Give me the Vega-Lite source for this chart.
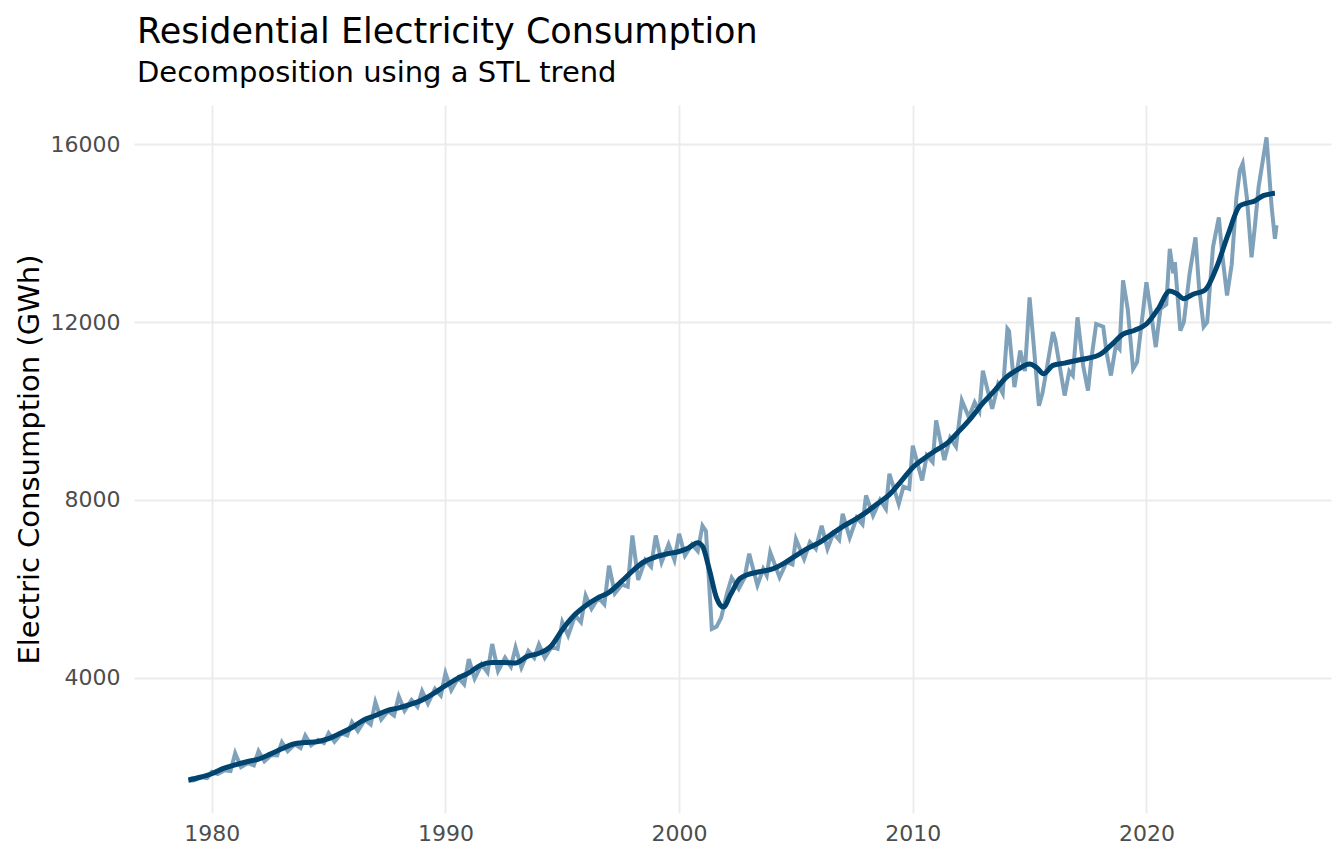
{
  "$schema": "https://vega.github.io/schema/vega-lite/v6.json",
  "width": 1197,
  "height": 708,
  "autosize": {"type": "none"},
  "padding": {"left": 134, "top": 105, "right": 13, "bottom": 51},
  "background": "white",
  "config": {
    "font": "DejaVu Sans",
    "view": {"stroke": null},
    "axis": {"grid": true, "gridColor": "#ebebeb", "gridWidth": 1.8, "domain": false, "ticks": false, "labelColor": "#4d4d4d", "labelFont": "DejaVu Sans", "labelFontSize": 22, "titleFont": "DejaVu Sans", "titleFontWeight": "normal", "titleColor": "black", "titleFontSize": 29}
  },
  "title": {"text": "Residential Electricity Consumption", "subtitle": "Decomposition using a STL trend", "anchor": "start", "frame": "group", "dx": 3, "font": "DejaVu Sans", "fontSize": 35, "fontWeight": "normal", "color": "black", "subtitleFont": "DejaVu Sans", "subtitleFontSize": 29, "subtitleColor": "black", "offset": 17, "subtitlePadding": 9},
  "datasets": {
    "raw": [
      {"t": 1979.0, "v": 1680}, {"t": 1979.25, "v": 1690}, {"t": 1979.55, "v": 1760}, {"t": 1979.8, "v": 1740},
      {"t": 1980.0, "v": 1880}, {"t": 1980.25, "v": 1830}, {"t": 1980.55, "v": 1920}, {"t": 1980.8, "v": 1900},
      {"t": 1981.0, "v": 2300}, {"t": 1981.25, "v": 1990}, {"t": 1981.55, "v": 2080}, {"t": 1981.8, "v": 2030},
      {"t": 1982.0, "v": 2350}, {"t": 1982.25, "v": 2120}, {"t": 1982.55, "v": 2260}, {"t": 1982.8, "v": 2250},
      {"t": 1983.0, "v": 2550}, {"t": 1983.25, "v": 2350}, {"t": 1983.55, "v": 2500}, {"t": 1983.8, "v": 2420},
      {"t": 1984.0, "v": 2700}, {"t": 1984.25, "v": 2480}, {"t": 1984.55, "v": 2600}, {"t": 1984.8, "v": 2530},
      {"t": 1985.0, "v": 2750}, {"t": 1985.25, "v": 2560}, {"t": 1985.55, "v": 2750}, {"t": 1985.8, "v": 2700},
      {"t": 1986.0, "v": 3000}, {"t": 1986.25, "v": 2800}, {"t": 1986.55, "v": 3050}, {"t": 1986.8, "v": 2950},
      {"t": 1987.0, "v": 3450}, {"t": 1987.25, "v": 3060}, {"t": 1987.55, "v": 3250}, {"t": 1987.8, "v": 3150},
      {"t": 1988.0, "v": 3580}, {"t": 1988.25, "v": 3260}, {"t": 1988.55, "v": 3500}, {"t": 1988.8, "v": 3350},
      {"t": 1989.0, "v": 3700}, {"t": 1989.25, "v": 3420}, {"t": 1989.55, "v": 3750}, {"t": 1989.8, "v": 3600},
      {"t": 1990.0, "v": 4100}, {"t": 1990.25, "v": 3720}, {"t": 1990.55, "v": 4000}, {"t": 1990.8, "v": 3850},
      {"t": 1991.0, "v": 4420}, {"t": 1991.25, "v": 3980}, {"t": 1991.55, "v": 4300}, {"t": 1991.8, "v": 4120},
      {"t": 1992.0, "v": 4760}, {"t": 1992.25, "v": 4150}, {"t": 1992.55, "v": 4450}, {"t": 1992.8, "v": 4250},
      {"t": 1993.0, "v": 4680}, {"t": 1993.25, "v": 4230}, {"t": 1993.55, "v": 4600}, {"t": 1993.8, "v": 4450},
      {"t": 1994.0, "v": 4750}, {"t": 1994.25, "v": 4450}, {"t": 1994.55, "v": 4700}, {"t": 1994.8, "v": 4650},
      {"t": 1995.0, "v": 5250}, {"t": 1995.25, "v": 4950}, {"t": 1995.55, "v": 5400}, {"t": 1995.8, "v": 5250},
      {"t": 1996.0, "v": 5850}, {"t": 1996.25, "v": 5550}, {"t": 1996.55, "v": 5800}, {"t": 1996.8, "v": 5650},
      {"t": 1997.0, "v": 6520}, {"t": 1997.25, "v": 5900}, {"t": 1997.55, "v": 6100}, {"t": 1997.8, "v": 6050},
      {"t": 1998.0, "v": 7200}, {"t": 1998.25, "v": 6200}, {"t": 1998.55, "v": 6650}, {"t": 1998.8, "v": 6500},
      {"t": 1999.0, "v": 7200}, {"t": 1999.25, "v": 6600}, {"t": 1999.55, "v": 7000}, {"t": 1999.8, "v": 6650},
      {"t": 2000.0, "v": 7240}, {"t": 2000.25, "v": 6750}, {"t": 2000.55, "v": 7000}, {"t": 2000.8, "v": 6850},
      {"t": 2001.0, "v": 7420}, {"t": 2001.15, "v": 7300}, {"t": 2001.4, "v": 5100}, {"t": 2001.6, "v": 5150}, {"t": 2001.8, "v": 5350},
      {"t": 2002.05, "v": 5900}, {"t": 2002.25, "v": 6250}, {"t": 2002.55, "v": 6000}, {"t": 2002.8, "v": 6250},
      {"t": 2003.0, "v": 6790}, {"t": 2003.35, "v": 6080}, {"t": 2003.6, "v": 6450}, {"t": 2003.75, "v": 6300},
      {"t": 2003.9, "v": 6820}, {"t": 2004.3, "v": 6260}, {"t": 2004.6, "v": 6600}, {"t": 2004.85, "v": 6550},
      {"t": 2005.0, "v": 7120}, {"t": 2005.35, "v": 6670}, {"t": 2005.6, "v": 7050}, {"t": 2005.85, "v": 6900},
      {"t": 2006.1, "v": 7420}, {"t": 2006.35, "v": 6900}, {"t": 2006.6, "v": 7250}, {"t": 2006.85, "v": 7100},
      {"t": 2007.0, "v": 7690}, {"t": 2007.3, "v": 7150}, {"t": 2007.6, "v": 7600}, {"t": 2007.85, "v": 7450},
      {"t": 2008.0, "v": 8100}, {"t": 2008.3, "v": 7650}, {"t": 2008.6, "v": 8000}, {"t": 2008.85, "v": 7800},
      {"t": 2009.0, "v": 8590}, {"t": 2009.4, "v": 7910}, {"t": 2009.6, "v": 8300}, {"t": 2009.85, "v": 8250},
      {"t": 2010.0, "v": 9220}, {"t": 2010.4, "v": 8440}, {"t": 2010.6, "v": 9000}, {"t": 2010.85, "v": 8850},
      {"t": 2011.0, "v": 9790}, {"t": 2011.35, "v": 8900}, {"t": 2011.6, "v": 9400}, {"t": 2011.85, "v": 9200},
      {"t": 2012.1, "v": 10240}, {"t": 2012.4, "v": 9860}, {"t": 2012.65, "v": 10200}, {"t": 2012.85, "v": 10000},
      {"t": 2013.0, "v": 10910}, {"t": 2013.4, "v": 10050}, {"t": 2013.65, "v": 10600}, {"t": 2013.85, "v": 10400},
      {"t": 2014.05, "v": 11850}, {"t": 2014.12, "v": 11800}, {"t": 2014.35, "v": 10540}, {"t": 2014.6, "v": 11360}, {"t": 2014.8, "v": 10900},
      {"t": 2015.0, "v": 12560}, {"t": 2015.4, "v": 10120}, {"t": 2015.55, "v": 10400}, {"t": 2015.75, "v": 11000},
      {"t": 2016.0, "v": 11780}, {"t": 2016.1, "v": 11600}, {"t": 2016.5, "v": 10350}, {"t": 2016.7, "v": 10900}, {"t": 2016.85, "v": 10800},
      {"t": 2017.05, "v": 12110}, {"t": 2017.3, "v": 11000}, {"t": 2017.5, "v": 10460}, {"t": 2017.65, "v": 11200}, {"t": 2017.85, "v": 11960},
      {"t": 2018.15, "v": 11900}, {"t": 2018.3, "v": 11300}, {"t": 2018.48, "v": 10800}, {"t": 2018.7, "v": 11500}, {"t": 2018.85, "v": 11400},
      {"t": 2019.0, "v": 12940}, {"t": 2019.2, "v": 12300}, {"t": 2019.43, "v": 10950}, {"t": 2019.6, "v": 11100}, {"t": 2019.8, "v": 12000},
      {"t": 2020.0, "v": 12900}, {"t": 2020.2, "v": 12200}, {"t": 2020.4, "v": 11440}, {"t": 2020.6, "v": 12300}, {"t": 2020.85, "v": 12400},
      {"t": 2021.0, "v": 13650}, {"t": 2021.15, "v": 13100}, {"t": 2021.22, "v": 13350}, {"t": 2021.45, "v": 11810}, {"t": 2021.6, "v": 12000}, {"t": 2021.85, "v": 13100},
      {"t": 2022.1, "v": 13910}, {"t": 2022.25, "v": 12800}, {"t": 2022.45, "v": 11900}, {"t": 2022.6, "v": 12000}, {"t": 2022.85, "v": 13690},
      {"t": 2023.1, "v": 14360}, {"t": 2023.25, "v": 13500}, {"t": 2023.45, "v": 12600}, {"t": 2023.65, "v": 13300}, {"t": 2023.85, "v": 14800},
      {"t": 2024.0, "v": 15420}, {"t": 2024.12, "v": 15570}, {"t": 2024.3, "v": 14800}, {"t": 2024.5, "v": 13460}, {"t": 2024.65, "v": 14200}, {"t": 2024.8, "v": 15040},
      {"t": 2025.14, "v": 16160}, {"t": 2025.36, "v": 14590}, {"t": 2025.5, "v": 13880}, {"t": 2025.57, "v": 14180}
    ],
    "trend": [
      {"t": 1979.0, "v": 1700}, {"t": 1979.5, "v": 1760}, {"t": 1980.0, "v": 1840}, {"t": 1980.5, "v": 1960},
      {"t": 1981.0, "v": 2040}, {"t": 1981.5, "v": 2110}, {"t": 1982.0, "v": 2170}, {"t": 1982.5, "v": 2280},
      {"t": 1983.0, "v": 2400}, {"t": 1983.5, "v": 2510}, {"t": 1984.0, "v": 2540}, {"t": 1984.5, "v": 2560},
      {"t": 1985.0, "v": 2630}, {"t": 1985.5, "v": 2750}, {"t": 1986.0, "v": 2880}, {"t": 1986.5, "v": 3050},
      {"t": 1987.0, "v": 3150}, {"t": 1987.5, "v": 3260}, {"t": 1988.0, "v": 3320}, {"t": 1988.5, "v": 3400},
      {"t": 1989.0, "v": 3500}, {"t": 1989.5, "v": 3650}, {"t": 1990.0, "v": 3820}, {"t": 1990.5, "v": 3980},
      {"t": 1991.0, "v": 4110}, {"t": 1991.5, "v": 4280}, {"t": 1992.0, "v": 4340}, {"t": 1992.5, "v": 4340},
      {"t": 1993.0, "v": 4330}, {"t": 1993.5, "v": 4480}, {"t": 1994.0, "v": 4550}, {"t": 1994.5, "v": 4700},
      {"t": 1995.0, "v": 5080}, {"t": 1995.5, "v": 5400}, {"t": 1996.0, "v": 5620}, {"t": 1996.5, "v": 5790},
      {"t": 1997.0, "v": 5920}, {"t": 1997.5, "v": 6150}, {"t": 1998.0, "v": 6400}, {"t": 1998.5, "v": 6610},
      {"t": 1999.0, "v": 6720}, {"t": 1999.5, "v": 6790}, {"t": 2000.0, "v": 6840}, {"t": 2000.4, "v": 6920},
      {"t": 2000.8, "v": 7040}, {"t": 2001.0, "v": 6960}, {"t": 2001.3, "v": 6420}, {"t": 2001.6, "v": 5800},
      {"t": 2001.9, "v": 5590}, {"t": 2002.2, "v": 5870}, {"t": 2002.6, "v": 6230}, {"t": 2003.0, "v": 6330},
      {"t": 2003.5, "v": 6390}, {"t": 2004.0, "v": 6450}, {"t": 2004.5, "v": 6580}, {"t": 2005.0, "v": 6750},
      {"t": 2005.5, "v": 6910}, {"t": 2006.0, "v": 7040}, {"t": 2006.5, "v": 7220}, {"t": 2007.0, "v": 7400},
      {"t": 2007.5, "v": 7550}, {"t": 2008.0, "v": 7720}, {"t": 2008.5, "v": 7920}, {"t": 2009.0, "v": 8120},
      {"t": 2009.5, "v": 8420}, {"t": 2010.0, "v": 8730}, {"t": 2010.5, "v": 8940}, {"t": 2011.0, "v": 9120},
      {"t": 2011.5, "v": 9290}, {"t": 2012.0, "v": 9560}, {"t": 2012.5, "v": 9850}, {"t": 2013.0, "v": 10180},
      {"t": 2013.5, "v": 10460}, {"t": 2014.0, "v": 10760}, {"t": 2014.5, "v": 10940}, {"t": 2015.0, "v": 11060},
      {"t": 2015.3, "v": 10980}, {"t": 2015.6, "v": 10840}, {"t": 2016.0, "v": 11030}, {"t": 2016.5, "v": 11080},
      {"t": 2017.0, "v": 11140}, {"t": 2017.5, "v": 11190}, {"t": 2018.0, "v": 11270}, {"t": 2018.5, "v": 11490},
      {"t": 2019.0, "v": 11730}, {"t": 2019.5, "v": 11820}, {"t": 2020.0, "v": 11960}, {"t": 2020.5, "v": 12300},
      {"t": 2021.0, "v": 12700}, {"t": 2021.3, "v": 12640}, {"t": 2021.6, "v": 12530}, {"t": 2022.0, "v": 12630},
      {"t": 2022.5, "v": 12720}, {"t": 2023.0, "v": 13230}, {"t": 2023.5, "v": 13980}, {"t": 2024.0, "v": 14620},
      {"t": 2024.3, "v": 14680}, {"t": 2024.6, "v": 14720}, {"t": 2025.0, "v": 14850}, {"t": 2025.5, "v": 14900}
    ]
  },
  "encoding": {
    "x": {"field": "t", "type": "quantitative", "scale": {"domain": [1976.67, 2027.9], "nice": false, "zero": false}, "axis": {"values": [1980, 1990, 2000, 2010, 2020], "format": "d", "title": null, "labelPadding": 10}},
    "y": {"field": "v", "type": "quantitative", "scale": {"domain": [956, 16888], "nice": false, "zero": false}, "axis": {"values": [4000, 8000, 12000, 16000], "format": "d", "title": "Electric Consumption (GWh)", "labelPadding": 14, "titlePadding": 6}}
  },
  "layer": [
    {"data": {"name": "raw"}, "mark": {"type": "line", "color": "#7fa2ba", "strokeWidth": 4}},
    {"data": {"name": "trend"}, "mark": {"type": "line", "color": "#00446f", "strokeWidth": 5, "interpolate": "monotone"}}
  ]
}
